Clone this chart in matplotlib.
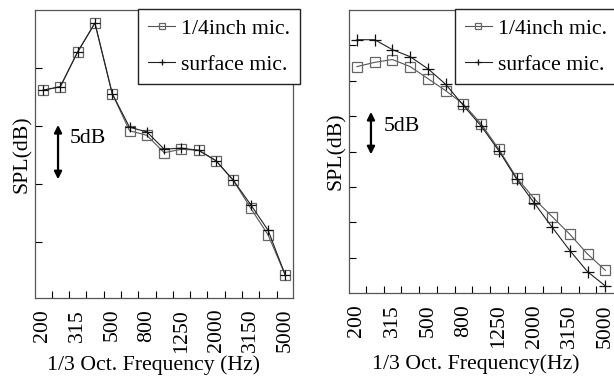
# SPL spectra: 1/4inch mic vs surface mic, two measurement cases side by side

import numpy as np
import matplotlib.pyplot as plt

plt.rcParams['font.family'] = ['Liberation Serif', 'DejaVu Serif']
plt.rcParams['font.size'] = 15.7

# 1/3 octave band centre frequencies (Hz)
freqs = ['200', '250', '315', '400', '500', '630', '800', '1000',
         '1250', '1600', '2000', '2500', '3150', '4000', '5000']
tick_labels = ['200', '315', '500', '800', '1250', '2000', '3150', '5000']

# left panel (relative dB)
left_quarter = [88.1, 88.4, 91.4, 93.9, 87.8, 84.6, 84.2, 82.7,
                83.0, 82.9, 82.0, 80.3, 77.9, 75.6, 72.1]
left_surface = [88.1, 88.4, 91.4, 93.9, 87.8, 84.9, 84.5, 83.0,
                83.1, 82.9, 82.0, 80.3, 78.2, 76.0, 72.1]

# right panel
right_quarter = [92.0, 92.6, 93.0, 92.0, 90.3, 88.6, 86.7, 83.9,
                 80.3, 76.3, 73.3, 70.8, 68.3, 65.5, 63.2]
right_surface = [95.8, 95.8, 94.4, 93.4, 91.7, 89.5, 86.5, 83.6,
                 80.1, 76.1, 72.7, 69.3, 66.0, 63.0, 61.0]


def draw_panel(ax, quarter, surface, ms, yticks, ylim, xlim, arrow, xlabel, legend_x):
    x = np.arange(len(freqs))
    ax.plot(x, quarter, color='#555555', lw=0.8, marker='s', ms=ms,
            mfc='none', mec='#666666', mew=0.9, label='1/4inch mic.')
    ax.plot(x, surface, color='#222222', lw=0.8, marker='+', ms=ms + 1,
            mec='#111111', mew=0.9, label='surface mic.')

    ax.set_xlim(*xlim)
    ax.set_ylim(*ylim)
    ax.set_xticks(x[::2])
    ax.set_xticklabels(tick_labels, rotation=90)
    ax.set_xticks(x[:-1] + 0.5, minor=True)
    ax.tick_params(axis='x', which='major', length=0, pad=8)
    ax.tick_params(axis='x', which='minor', direction='in', length=5, width=0.8)
    ax.set_yticks(yticks)
    ax.set_yticklabels([])
    ax.tick_params(axis='y', direction='in', length=5, width=0.8)
    for s in ax.spines.values():
        s.set_color('#555555')
        s.set_linewidth(0.9)

    ax.set_ylabel('SPL(dB)', labelpad=-1.5)
    ax.set_xlabel(xlabel, labelpad=2)

    # 5dB scale arrow
    ax_x, y_top, y_bot, tx, ty = arrow
    ax.annotate('', xy=(ax_x, y_top), xytext=(ax_x, y_bot),
                arrowprops=dict(arrowstyle='<|-|>', color='black', lw=1.6,
                                mutation_scale=11, shrinkA=0, shrinkB=0))
    ax.text(tx, ty, '5dB', va='center', ha='left')

    fig = ax.figure
    ax.legend(loc='upper left', bbox_to_anchor=(legend_x, 1 - 9 / 377),
              bbox_transform=fig.transFigure, fancybox=False, framealpha=1,
              edgecolor='#222222', borderaxespad=0, borderpad=0.45,
              handlelength=1.25, handletextpad=0.25, labelspacing=0.7,
              markerscale=0.6)


fig = plt.figure(figsize=(6.14, 3.77), dpi=100)
ax1 = fig.add_axes([35 / 614, 1 - 297.7 / 377, 258 / 614, 287.7 / 377])
ax2 = fig.add_axes([348.6 / 614, 1 - 293 / 377, 266.5 / 614, 283 / 377])

draw_panel(ax1, left_quarter, left_surface, 6.5, [75, 80, 85, 90],
           (70.17, 95.03), (-0.46, 14.44),
           (0.87, 85.1, 80.4, 1.56, 83.9), '1/3 Oct. Frequency (Hz)', 138.3 / 614)
draw_panel(ax2, right_quarter, right_surface, 7.2, [65, 70, 75, 80, 85, 90, 95],
           (60, 100), (-0.47, 14.55),
           (0.79, 85.6, 79.6, 1.52, 83.5), '1/3 Oct. Frequency(Hz)', 455 / 614)

ax1.xaxis.set_label_coords(0.46, -0.2)
ax2.xaxis.set_label_coords(0.478, -0.215)

fig.savefig('out.png', dpi=100)
